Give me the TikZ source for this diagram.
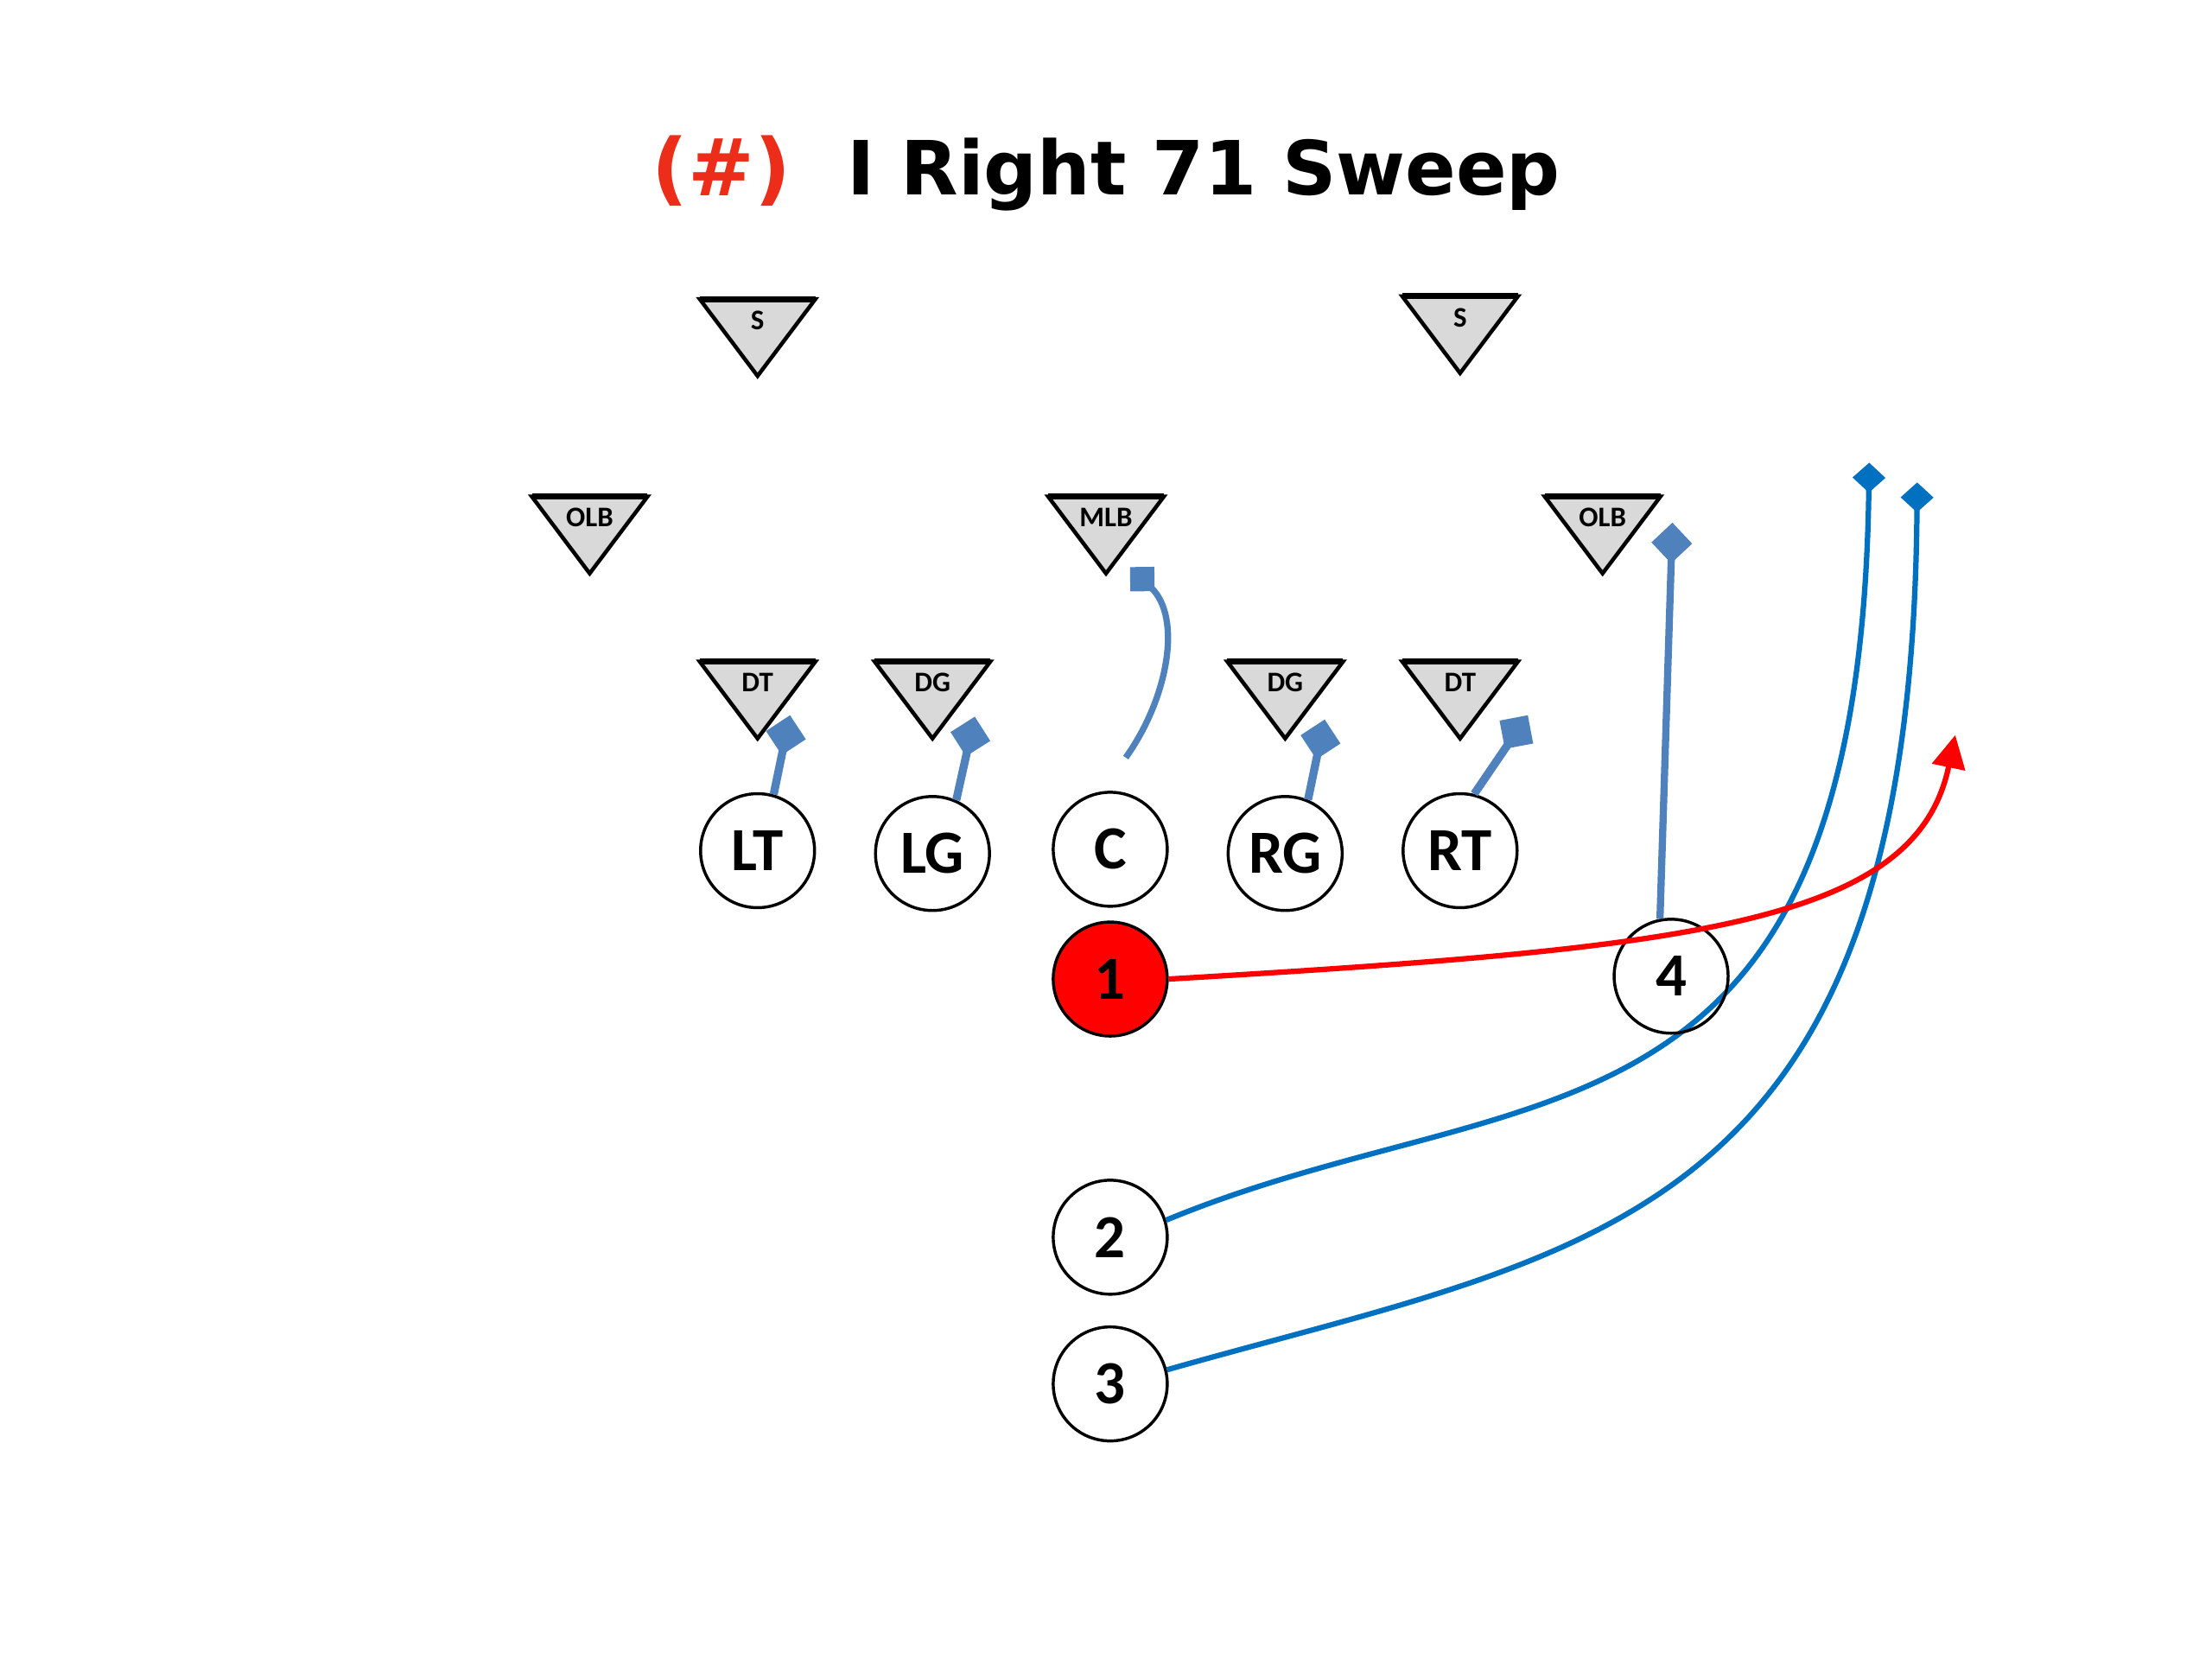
\documentclass[tikz,border=0pt]{standalone}
\usepackage{fontspec}
\newfontfamily\carlito{Carlito}
\newfontfamily\titlefont{DejaVu Sans}
\usetikzlibrary{arrows.meta}
\definecolor{blockblue}{RGB}{79,129,189}
\definecolor{routeblue}{RGB}{0,112,192}
\definecolor{titlered}{RGB}{235,45,25}
\definecolor{defgray}{RGB}{217,217,217}
\tikzset{
  player/.style={circle,draw=black,line width=1pt,fill=white,minimum size=1.34cm,inner sep=0pt,font=\carlito\bfseries\fontsize{20.5}{24}\selectfont},
  deflabel/.style={inner sep=0pt,font=\carlito\bfseries\fontsize{9.5}{11}\selectfont},
  deftri/.style={draw=black,fill=defgray,line width=1.3pt,line join=miter},
  deftop/.style={draw=black,line width=2pt},
  blockline/.style={draw=blockblue,line width=2.7pt,-{Diamond[length=13.6pt,width=13.6pt]}},
  cblock/.style={draw=blockblue,line width=2.1pt,-{Diamond[length=11.5pt,width=11.5pt]}},
  route/.style={draw=routeblue,line width=1.8pt,-{Diamond[length=10pt,width=11pt]}},
  ballroute/.style={draw=red,line width=1.8pt,-{Triangle[length=11pt,width=11pt]}},
  titletext/.style={anchor=base west,inner sep=0pt,font=\titlefont\bfseries\fontsize{25}{30}\selectfont}
}
\newcommand\defender[4]{%
  \draw[deftri] (#2-41,#3) -- (#2+41,#3) -- (#2,#3+54.5) -- cycle;
  \draw[deftop] (#2-41,#3) -- (#2+41,#3);
  \node[deflabel] (#1) at (#2,#3+15) {#4};
}
\begin{document}
\begin{tikzpicture}[x=0.165816mm,y=-0.165816mm]
\fill[white] (0,0) rectangle (1568,1176);
\useasboundingbox (0,0) rectangle (1568,1176);

% title
\node[titletext,text=titlered,font=\titlefont\bfseries\fontsize{26.5}{30}\selectfont] (num) at (462,139) {(\#)};
\node[titletext,text=black] (title) at (600,138) {I Right 71 Sweep};

% defense
\defender{S1}{537}{212}{S}
\defender{S2}{1035}{210}{S}
\defender{OLB1}{418}{352}{OLB}
\defender{MLB}{784}{352}{MLB}
\defender{OLB2}{1136}{352}{OLB}
\defender{DT1}{537}{469}{DT}
\defender{DG1}{661}{469}{DG}
\defender{DG2}{911}{469}{DG}
\defender{DT2}{1035}{469}{DT}

% offense
\node[player] (LT) at (537,603) {LT};
\node[player] (LG) at (661,605) {LG};
\node[player] (C) at (787,602) {C};
\node[player] (RG) at (911,605) {RG};
\node[player] (RT) at (1035,603) {RT};
\node[player,fill=red] (P1) at (787,694) {1};
\node[player] (P2) at (787,877) {2};
\node[player] (P3) at (787,981) {3};

% route end points
\coordinate (bLT) at (560,507);
\coordinate (bLG) at (691,508);
\coordinate (bRG) at (939,510);
\coordinate (bRT) at (1083,507);
\coordinate (cstart) at (798,537);
\coordinate (bC) at (801,402);
\coordinate (bP4) at (1185.5,370.5);
\coordinate (r2) at (1325,328);
\coordinate (r3) at (1359,342);
\coordinate (r1) at (1386,521);

% blocks
\draw[blockline] (LT.74) -- (bLT);
\draw[blockline] (LG.66) -- (bLG);
\draw[blockline] (RG.67) -- (bRG);
\draw[blockline] (RT.76) -- (bRT);
\draw[cblock] (cstart) .. controls (828,495) and (838,438) .. (bC);

% routes
\draw[route] (P2.17) .. controls (1080,760) and (1318,830) .. (r2);
\draw[route] (P3.14) .. controls (1130,885) and (1355,870) .. (r3);

% back 4 (drawn over blue route)
\node[player,fill=none] (P4) at (1184.6,692) {4};
\draw[blockline,line width=2.4pt] (P4.101) -- (bP4);
\draw[ballroute] (P1.east) .. controls (1200,672) and (1358,655) .. (r1);
\end{tikzpicture}
\end{document}
